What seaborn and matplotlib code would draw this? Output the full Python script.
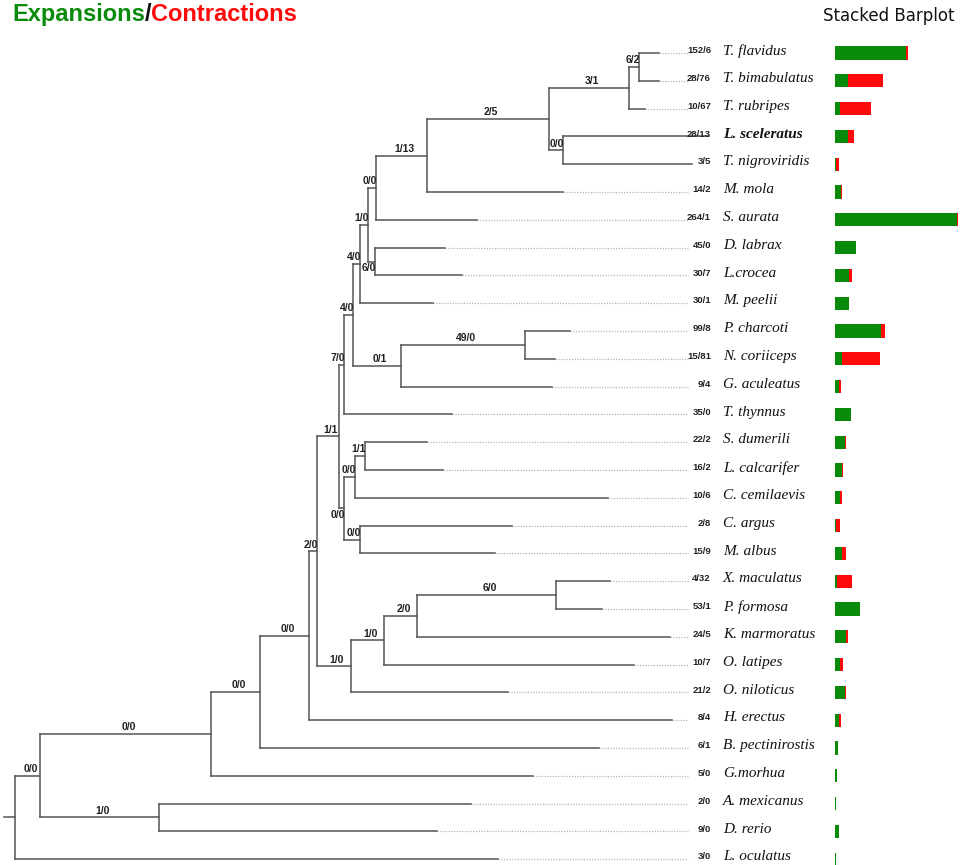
import matplotlib
matplotlib.use("Agg")
import matplotlib.pyplot as plt
from matplotlib import font_manager
from matplotlib.collections import LineCollection
import numpy as np
import pandas as pd
import seaborn as sns

sns.set_style("white")

# ---- data ----
taxa = ["T. flavidus", "T. bimabulatus", "T. rubripes", "L. sceleratus", "T. nigroviridis",
        "M. mola", "S. aurata", "D. labrax", "L.crocea", "M. peelii",
        "P. charcoti", "N. coriiceps", "G. aculeatus", "T. thynnus", "S. dumerili",
        "L. calcarifer", "C. cemilaevis", "C. argus", "M. albus", "X. maculatus",
        "P. formosa", "K. marmoratus", "O. latipes", "O. niloticus", "H. erectus",
        "B. pectinirostis", "G.morhua", "A. mexicanus", "D. rerio", "L. oculatus"]
expansions = [152, 28, 10, 28, 3, 14, 264, 45, 30, 30, 99, 15, 9, 35, 22,
              16, 10, 2, 15, 4, 53, 24, 10, 21, 8, 6, 5, 2, 9, 3]
contractions = [6, 76, 67, 13, 5, 2, 1, 0, 7, 1, 8, 81, 4, 0, 2,
                2, 6, 8, 9, 32, 1, 5, 7, 2, 4, 1, 0, 0, 0, 0]

# tree: parent node of every tip and the drawn length of its branch
tip_parent = [21, 21, 20, 22, 22, 18, 16, 17, 17, 12, 14, 14, 13, 9, 24,
              24, 23, 25, 25, 28, 28, 27, 26, 8, 5, 4, 2, 3, 3, 0]
tip_depth = [644, 644, 630, 694, 677, 548, 462, 430, 447, 418, 555, 540, 537, 437, 412,
             428, 593, 497, 480, 595, 587, 655, 619, 493, 657, 584, 518, 456, 422, 483]

# internal nodes (0 = root)
node_parent = [None, 0, 1, 1, 2, 4, 5, 6, 6, 7, 7, 9, 11, 11, 13, 12, 15, 15, 16,
               18, 19, 20, 19, 10, 23, 10, 8, 26, 27]
node_depth = [0, 25, 196, 144, 245, 294, 302, 324, 336, 329, 329, 338, 345, 386, 510,
              353, 361, 360, 412, 534, 614, 624, 548, 340, 350, 345, 369, 402, 541]
node_label = [None, "0/0", "0/0", "1/0", "0/0", "0/0", "2/0", "1/1", "1/0", "7/0",
              "0/0", "4/0", "4/0", "0/1", "49/0", "1/0", "0/0", "6/0", "1/13", "2/5",
              "3/1", "6/2", "0/0", "0/0", "1/1", "0/0", "1/0", "2/0", "6/0"]

title_parts = ["Expansions", "/", "Contractions"]
highlight = "L. sceleratus"

# ---- style ----
GREEN = "#0a8a0a"
RED = "#ff0a0a"
LINE = "#555555"
DOT = "#b5b5b5"
labels_below = {10, 17}
names = {f.name for f in font_manager.fontManager.ttflist}
NARROW = "Liberation Sans Narrow" if "Liberation Sans Narrow" in names else "Liberation Sans"
NUM_SIZE = 8 if NARROW == "Liberation Sans Narrow" else 6.8

W, H = 962, 865
fig = plt.figure(figsize=(W / 100, H / 100), dpi=100)
ylim = ((H - 53) / 27.8, -53 / 27.8)

# ---- tree ----
ax = fig.add_axes([0, 0, 1, 1])
ax.set_xlim(-15, W - 15)
ax.set_ylim(*ylim)
ax.axis("off")

children = {i: [] for i in range(len(node_parent))}
for i, p in enumerate(node_parent):
    if p is not None:
        children[p].append(("node", i))
for t, p in enumerate(tip_parent):
    children[p].append(("tip", t))

node_y = {}
def get_y(i):
    if i not in node_y:
        ys = [k if kind == "tip" else get_y(k) for kind, k in children[i]]
        node_y[i] = (min(ys) + max(ys)) / 2
    return node_y[i]

span = {}
for i in range(len(node_parent)):
    ys = [k if kind == "tip" else get_y(k) for kind, k in children[i]]
    span[i] = (min(ys), max(ys))

solid, dotted = [], []
for i, p in enumerate(node_parent):
    y = get_y(i)
    if p is None:
        solid.append([(-11, y), (node_depth[i], y)])
    else:
        solid.append([(node_depth[p], y), (node_depth[i], y)])
    solid.append([(node_depth[i], span[i][0]), (node_depth[i], span[i][1])])

DOT_END, NUM_X, NAME_X = 673, 696, 708
for t, p in enumerate(tip_parent):
    solid.append([(node_depth[p], t), (tip_depth[t], t)])
    if tip_depth[t] < DOT_END:
        dotted.append([(tip_depth[t], t), (DOT_END, t)])

ax.add_collection(LineCollection(dotted, colors=DOT, linewidths=0.9, linestyles=(0, (1, 1.2))))
ax.add_collection(LineCollection(solid, colors=LINE, linewidths=1.1, capstyle="projecting"))

for i, p in enumerate(node_parent):
    if p is None:
        continue
    x0, x1, y = node_depth[p], node_depth[i], get_y(i)
    if x1 - x0 < 20:
        tx, ha = x1 + 1, "right"
    else:
        tx, ha = (x0 + x1) / 2 + 3, "center"
    if i in labels_below:
        ax.text(tx, y + 0.06, node_label[i], ha=ha, va="top", fontsize=7.5,
                fontweight="bold", family=NARROW, color="#222222")
    else:
        ax.text(tx, y - 0.06, node_label[i], ha=ha, va="bottom", fontsize=7.5,
                fontweight="bold", family=NARROW, color="#222222")

for t, name in enumerate(taxa):
    ax.text(NUM_X, t - 0.08, f"{expansions[t]}/{contractions[t]}", ha="right", va="center",
            fontsize=NUM_SIZE, fontweight="bold", family=NARROW, color="#222222")
    ax.text(NAME_X, t - 0.08, name, ha="left", va="center", fontsize=11, style="italic",
            fontweight="bold" if name == highlight else "normal",
            family="Liberation Serif", color="#111111")

# ---- stacked barplot ----
df = pd.DataFrame({"taxon": taxa, "expansion": expansions, "contraction": contractions})
df["total"] = df["expansion"] + df["contraction"]
axb = fig.add_axes([835 / W, 0, (W - 835) / W, 1])
sns.barplot(data=df, y="taxon", x="total", order=taxa, color=RED, saturation=1,
            width=0.47, linewidth=0, errorbar=None, ax=axb)
sns.barplot(data=df, y="taxon", x="expansion", order=taxa, color=GREEN, saturation=1,
            width=0.47, linewidth=0, errorbar=None, ax=axb)
axb.set_xlim(0, (W - 835) / 0.464)
axb.set_ylim(*ylim)
axb.axis("off")

# ---- titles ----
fig.canvas.draw()
renderer = fig.canvas.get_renderer()
x = 12 / W
for part, col in zip(title_parts, [GREEN, "#111111", RED]):
    txt = fig.text(x, 1 - 21 / H, part, color=col, fontsize=17, fontweight="bold",
                   family="Liberation Sans", va="baseline")
    x = txt.get_window_extent(renderer).x1 / fig.bbox.width

fig.text(889 / W, 1 - 21 / H, "Stacked Barplot", ha="center", va="baseline",
         fontsize=12, family="DejaVu Sans", color="#111111")

fig.savefig("out.png", dpi=100)
